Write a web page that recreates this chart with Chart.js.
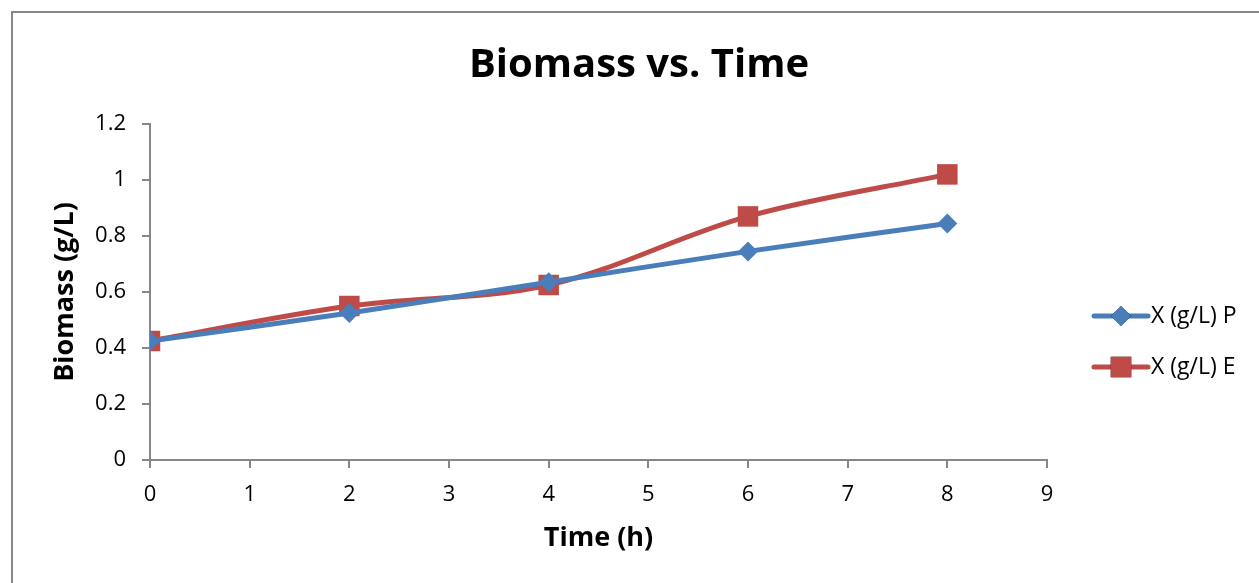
<!DOCTYPE html>
<html>
<head>
<meta charset="utf-8">
<title>Biomass vs. Time</title>
<script src="https://cdn.jsdelivr.net/npm/chart.js@4.4.0/dist/chart.umd.min.js"></script>
<style>
    html, body { margin: 0; padding: 0; background: #fff; overflow: hidden; }
    #wrap { position: relative; width: 1259px; height: 583px; }
    #frame { position: absolute; left: 11px; top: 11px; width: 1300px; height: 640px; border: 2px solid #878787; box-sizing: border-box; }
    canvas { position: absolute; left: 0; top: 0; }
</style>
</head>
<body>
<div id="wrap">
    <div id="frame"></div>
    <canvas id="biomassChart" width="1259" height="583"></canvas>
</div>
<script>
// Sampling times (h) and measured biomass (g/L)
const timeH = [0, 2, 4, 6, 8];
const biomassP = [0.425, 0.525, 0.635, 0.745, 0.845];
const biomassE = [0.425, 0.55, 0.625, 0.87, 1.02];
const seriesNames = ['X (g/L) P', 'X (g/L) E'];
const chartTitle = 'Biomass vs. Time';

const FONT = '"Open Sans", "Liberation Sans", sans-serif';
const axisGray = '#878787';
const blue = '#4A7EBB';
const red = '#BE4B48';

function toPoints(ys) {
    return timeH.map((t, i) => ({ x: t, y: ys[i] }));
}

// Title centred on the whole frame rather than on the plot area
const frameTitle = {
    id: 'frameTitle',
    afterDraw(chart) {
        const ctx = chart.ctx;
        ctx.save();
        ctx.fillStyle = '#000';
        ctx.font = 'bold 40px ' + FONT;
        ctx.textAlign = 'center';
        ctx.textBaseline = 'alphabetic';
        ctx.fillText(chartTitle, 639, 77);
        ctx.restore();
    }
};

// Legend on the right: line segment with the marker in the middle
const sideLegend = {
    id: 'sideLegend',
    afterDraw(chart) {
        const ctx = chart.ctx;
        const x0 = 1094, x1 = 1148;
        const rows = [316, 367];
        ctx.save();
        chart.data.datasets.forEach((ds, i) => {
            const y = rows[i];
            ctx.strokeStyle = ds.borderColor;
            ctx.lineWidth = 5;
            ctx.lineCap = 'round';
            ctx.beginPath();
            ctx.moveTo(x0, y);
            ctx.lineTo(x1, y);
            ctx.stroke();
            Chart.helpers.drawPoint(ctx, {
                pointStyle: ds.pointStyle,
                radius: ds.pointRadius,
                borderWidth: 0
            }, (x0 + x1) / 2, y);
            ctx.fillStyle = ds.pointBackgroundColor;
            ctx.fill();
            ctx.fillStyle = '#000';
            ctx.font = '23px ' + FONT;
            ctx.textBaseline = 'middle';
            ctx.textAlign = 'left';
            ctx.fillText(ds.label, x1 + 3, y);
        });
        ctx.restore();
    }
};

new Chart(document.getElementById('biomassChart'), {
    type: 'line',
    data: {
        datasets: [
            {
                label: seriesNames[0],
                data: toPoints(biomassP),
                borderColor: blue,
                backgroundColor: blue,
                pointBackgroundColor: blue,
                pointBorderWidth: 0,
                borderWidth: 5,
                tension: 0.35,
                pointStyle: 'rectRot',
                pointRadius: 10
            },
            {
                label: seriesNames[1],
                data: toPoints(biomassE),
                borderColor: red,
                backgroundColor: red,
                pointBackgroundColor: red,
                pointBorderWidth: 0,
                borderWidth: 5,
                tension: 0.35,
                pointStyle: 'rect',
                pointRadius: 14.5
            }
        ]
    },
    options: {
        responsive: false,
        animation: false,
        layout: { padding: { left: 19, right: 212, top: 124, bottom: 0 } },
        plugins: {
            legend: { display: false },
            tooltip: { enabled: false },
            title: { display: false }
        },
        scales: {
            x: {
                type: 'linear',
                min: 0,
                max: 9,
                ticks: { stepSize: 1, color: '#000', padding: 14, font: { family: FONT, size: 22 } },
                grid: { drawOnChartArea: false, drawTicks: true, tickLength: 8, color: axisGray, lineWidth: 2 },
                border: { color: axisGray, width: 2 },
                title: {
                    display: true,
                    text: 'Time (h)',
                    color: '#000',
                    font: { family: FONT, size: 27, weight: 'bold' },
                    padding: { top: 0, bottom: 28 }
                },
                afterFit(scale) { scale.height = 123; }
            },
            y: {
                min: 0,
                max: 1.2,
                ticks: {
                    stepSize: 0.2,
                    color: '#000',
                    padding: 16,
                    font: { family: FONT, size: 22 },
                    callback: v => String(+v.toFixed(1))
                },
                grid: { drawOnChartArea: false, drawTicks: true, tickLength: 8, color: axisGray, lineWidth: 2 },
                border: { color: axisGray, width: 2 },
                title: {
                    display: true,
                    text: 'Biomass (g/L)',
                    color: '#000',
                    font: { family: FONT, size: 27, weight: 'bold' },
                    padding: { top: 30, bottom: 0 }
                },
                afterFit(scale) { scale.width = 131; }
            }
        }
    },
    plugins: [frameTitle, sideLegend]
});
</script>
</body>
</html>
